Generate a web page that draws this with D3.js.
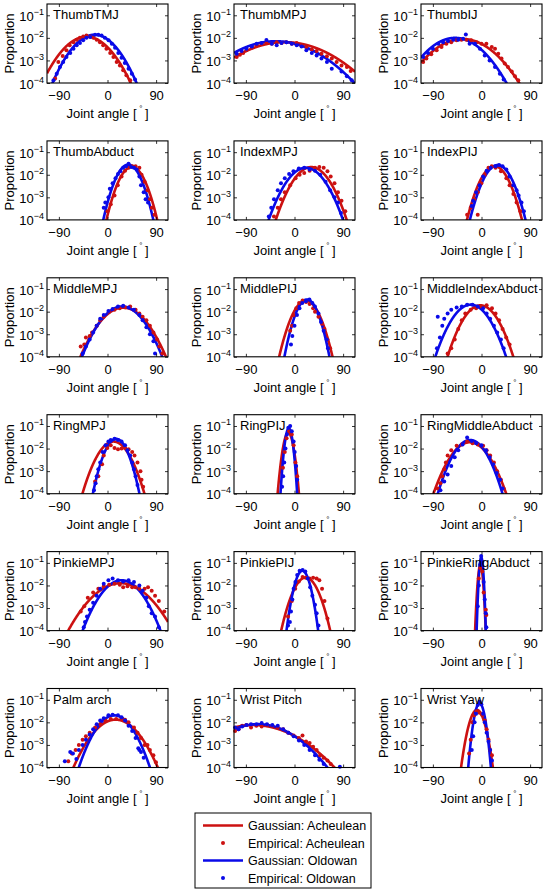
<!DOCTYPE html>
<html><head><meta charset="utf-8">
<script src="https://cdn.jsdelivr.net/npm/d3@7"></script>
<style>
body{margin:0;background:#fff}
svg{display:block}
text{font-family:"Liberation Sans",Arial,Helvetica,sans-serif;fill:#000}
</style></head>
<body><svg id="c" width="545" height="892"></svg>
<script>
// ---------- DATA ----------
const panelNames = ["ThumbTMJ","ThumbMPJ","ThumbIJ","ThumbAbduct","IndexMPJ","IndexPIJ",
  "MiddleMPJ","MiddlePIJ","MiddleIndexAbduct","RingMPJ","RingPIJ","RingMiddleAbduct",
  "PinkieMPJ","PinkiePIJ","PinkieRingAbduct","Palm arch","Wrist Pitch","Wrist Yaw"];

const xTicks = [-90, 0, 90];
const yTicks = [1e-4, 1e-3, 1e-2, 1e-1];
const yTickExp = ["\u22124","\u22123","\u22122","\u22121"];
const legendLabels = ["Gaussian: Acheulean","Empirical: Acheulean","Gaussian: Oldowan","Empirical: Oldowan"];

// Gaussian fits: [mean (deg), sd (deg), log10 of peak proportion]
const acheuleanFit = [
  [-39,26.7,-1.95],[-18,53,-2.19],[-35,35,-2.05],
  [45,14.3,-1.65],[31,20,-1.66],[24,15.4,-1.62],
  [29,25,-1.82],[21,14.6,-1.51],[-2,18.8,-1.72],
  [11,17.6,-1.69],[-11.5,5.6,-1.3],[-21.6,20.8,-1.72],
  [24.3,31.2,-1.9],[20.7,13.8,-1.65],[-2,2.7,-1.1],
  [15,25,-1.88],[-76,51,-2.12],[-8.4,8.6,-1.45]
];
const oldowanFit = [
  [-24,24.8,-1.86],[-35,50,-2.15],[-49,31.4,-2.0],
  [38.5,13.8,-1.55],[21,21.1,-1.69],[30,15.4,-1.57],
  [27,23.2,-1.77],[23,12.2,-1.46],[-20,20.1,-1.69],
  [16,12.9,-1.57],[-10.5,4.24,-1.1],[-21,18.1,-1.62],
  [26,22.5,-1.77],[14.5,8.4,-1.35],[-0.5,2.2,-0.75],
  [12.7,20.2,-1.69],[-67.5,43.2,-2.08],[-3.6,5.8,-1.15]
];

// Empirical points: [joint angle (deg), log10(proportion)]
const acheuleanPts = [
  [[-97,-3.8],[-91,-3.07],[-83,-2.8],[-76,-2.55],[-70,-2.33],[-63,-2.19],[-57,-2.08],[-51,-2.0],[-45,-1.94],[-39,-1.9],[-32,-1.94],[-26,-2.0],[-20,-2.08],[-14,-2.19],[-8,-2.33],[-2,-2.48],[5,-2.67],[11,-2.85],[17,-3.07],[23,-3.22],[29,-3.44],[35,-3.66],[42,-3.88]],
  [[-107,-2.85],[-101,-2.75],[-95,-2.67],[-89,-2.55],[-79,-2.44],[-70,-2.33],[-61,-2.26],[-52,-2.23],[-42,-2.26],[-33,-2.19],[-24,-2.23],[-15,-2.19],[-5,-2.26],[4,-2.23],[13,-2.33],[22,-2.4],[32,-2.52],[41,-2.58],[50,-2.7],[60,-2.82],[69,-2.92],[78,-3.07],[87,-3.22],[97,-3.29],[104,-3.47]],
  [[-108,-3.07],[-102,-2.92],[-93,-2.73],[-83,-2.55],[-74,-2.4],[-65,-2.26],[-56,-2.19],[-46,-2.11],[-37,-2.08],[-28,-2.08],[-19,-2.11],[-9,-2.19],[0,-2.26],[9,-2.26],[19,-2.4],[25,-2.48],[31,-2.7],[37,-2.92],[43,-3.14],[49,-3.29],[56,-3.49],[62,-3.7],[68,-3.88]],
  [[0,-3.62],[6,-3.31],[13,-2.92],[19,-2.46],[26,-2.08],[32.5,-1.82],[39,-1.69],[46,-1.62],[52,-1.62],[59,-1.69],[63,-2.0],[68.7,-2.31],[74,-2.69],[78.5,-3.08],[82,-3.46],[87,-3.77]],
  [[-38,-3.85],[-31,-3.46],[-25,-3.08],[-18,-2.77],[-8,-2.46],[2,-2.15],[9.5,-2.0],[18,-1.92],[28,-1.82],[38,-1.69],[46,-1.66],[54,-1.69],[61,-1.85],[67,-2.08],[74,-2.38],[80.5,-2.77],[87,-3.15],[94,-3.62]],
  [[-26.6,-3.77],[-20,-3.46],[-13.5,-3.08],[-7,-2.77],[-7,-3.77],[-0.3,-2.38],[6,-2.0],[13,-1.69],[19,-1.62],[26,-1.69],[36,-1.85],[46,-2.15],[52,-2.46],[59,-2.85],[65,-3.23],[72,-3.62]],
  [[-49.6,-3.54],[-43,-3.46],[-40,-3.15],[-33,-3.08],[-28.6,-2.92],[-20,-2.62],[-13.5,-2.38],[-7,-2.23],[3,-2.0],[13,-1.92],[22.7,-1.85],[33,-1.82],[42,-1.77],[52,-1.92],[59,-2.08],[65,-2.23],[72,-2.38],[78.5,-2.62],[85,-2.92],[91.7,-3.23],[96,-3.54],[101.5,-3.85]],
  [[-8,-2.85],[-4.6,-2.62],[-1.3,-2.15],[3.3,-1.85],[8.5,-1.62],[15,-1.51],[21.4,-1.57],[28,-1.66],[34.5,-1.85],[38,-2.0],[44.4,-2.23],[51,-2.54],[55.5,-2.77],[61,-3.23],[66,-3.62]],
  [[-62.7,-3.85],[-56,-3.62],[-49.6,-3.23],[-43,-2.77],[-36.5,-2.38],[-30,-2.08],[-20,-1.92],[-10,-1.85],[0,-1.77],[9.5,-1.72],[19.4,-1.85],[26,-2.08],[32.5,-2.38],[39,-2.77],[45.7,-3.15],[52,-3.46]],
  [[-23,-3.46],[-17,-3.23],[-10,-2.69],[-7,-2.31],[-0.3,-1.97],[6,-1.85],[13,-1.97],[19.4,-2.03],[26,-2.0],[32.5,-1.97],[39,-2.03],[45.7,-2.15],[50,-2.31],[55.5,-2.62],[61,-3.0],[63,-3.38],[66,-3.69]],
  [[-21.4,-2.85],[-18,-2.15],[-14.7,-1.54],[-10,-1.23],[-5,-1.38],[-1.6,-1.85],[1.7,-2.62],[5,-3.23]],
  [[-81,-3.77],[-76,-3.54],[-72.6,-3.23],[-69,-2.92],[-66,-2.62],[-62.7,-2.31],[-56,-2.08],[-46,-1.88],[-36.5,-1.82],[-26.6,-1.69],[-16.7,-1.77],[-7,-1.82],[3,-1.88],[9.5,-2.08],[16,-2.31],[23,-2.62],[29,-3.0],[36,-3.38],[41,-3.77]],
  [[-49.6,-3.15],[-43,-2.92],[-36.5,-2.54],[-26.6,-2.31],[-17,-2.15],[-7,-2.03],[3,-1.97],[13,-1.92],[22.7,-1.97],[29,-2.08],[37,-2.03],[45.7,-2.08],[52,-2.08],[59,-2.15],[68.7,-2.15],[75,-2.08],[81.8,-2.23],[88,-2.46],[95,-2.69],[105,-3.15]],
  [[-12,-3.38],[-5,-2.69],[1.3,-2.15],[8,-1.82],[15,-1.62],[21,-1.66],[28,-1.69],[34.5,-1.66],[41,-1.69],[46,-1.77],[51,-2.15],[55.5,-2.69],[61,-3.46]],
  [[-5,-1.69],[-2.6,-1.23],[1.3,-1.38],[4,-2.31],[8,-3.08],[9,-3.31]],
  [[-72.6,-3.72],[-66,-3.38],[-59,-3.23],[-53,-3.0],[-46,-2.77],[-40,-2.62],[-33,-2.46],[-23,-2.23],[-13.5,-2.08],[-3.6,-1.92],[6,-1.85],[16,-1.85],[26,-1.82],[32.5,-1.88],[39,-2.0],[49,-2.23],[55.5,-2.46],[62,-2.69],[68.7,-3.0],[74,-3.0],[78.5,-3.23],[85,-3.46],[89.7,-3.77]],
  [[-110,-2.38],[-103.5,-2.31],[-97,-2.15],[-89,-2.12],[-80.5,-2.23],[-70.6,-2.15],[-60.8,-2.18],[-51,-2.12],[-41,-2.15],[-31,-2.23],[-21,-2.31],[-11.5,-2.46],[-1.6,-2.58],[8.2,-2.69],[14.8,-2.58],[21.4,-2.85],[28,-2.92],[34.5,-3.08],[41,-3.23],[47.6,-3.46],[54,-3.57],[61,-3.69],[67,-3.85]],
  [[-23,-3.38],[-20,-2.77],[-16.7,-2.0],[-13.5,-1.69],[-9,-1.51],[-3.6,-1.57],[1.6,-1.69],[6,-1.92],[9.5,-2.31],[13,-2.77],[16,-3.23],[19.4,-3.46]]
];
const oldowanPts = [
  [[-100,-3.88],[-94,-3.59],[-88,-3.29],[-82,-3.07],[-76,-2.85],[-69,-2.67],[-63,-2.48],[-57,-2.33],[-51,-2.23],[-45,-2.11],[-39,-2.0],[-32,-1.96],[-23,-1.86],[-17,-1.86],[-11,-1.9],[-5,-2.0],[2,-2.11],[8,-2.26],[14,-2.44],[20,-2.67],[26,-2.88],[32,-3.11],[39,-3.37],[45,-3.59],[51,-3.85]],
  [[-107,-2.7],[-98,-2.58],[-89,-2.48],[-79,-2.38],[-70,-2.26],[-61,-2.23],[-52,-2.1],[-42,-2.26],[-33,-2.33],[-24,-2.23],[-15,-2.19],[-5,-2.26],[4,-2.33],[13,-2.38],[22,-2.55],[32,-2.67],[41,-2.78],[50,-2.92],[60,-3.07],[69,-3.37],[87,-3.49],[97,-3.7],[106,-3.88]],
  [[-108,-2.85],[-99,-2.67],[-90,-2.48],[-80,-2.26],[-71,-2.19],[-62,-2.14],[-52,-2.08],[-43,-2.08],[-34,-2.04],[-29,-1.85],[-22,-2.26],[-12,-2.26],[-3,-2.48],[6,-2.78],[15,-3.0],[25,-3.29],[34,-3.59],[41,-3.85]],
  [[-7,-3.46],[-4,-3.23],[1.7,-3.0],[4.3,-2.62],[9.5,-2.38],[14.8,-2.15],[19.4,-1.97],[24,-1.85],[29,-1.69],[34.5,-1.62],[39,-1.51],[44,-1.66],[49,-1.69],[54,-1.77],[59,-2.08],[62,-2.46],[67,-2.77],[70.6,-3.08],[75,-3.23]],
  [[-47.6,-3.85],[-43,-3.46],[-38,-3.08],[-31,-2.69],[-25,-2.38],[-18,-2.15],[-10,-1.97],[-2,-1.85],[8,-1.72],[18,-1.69],[28,-1.77],[38,-1.82],[47.7,-2.0],[57.5,-2.31],[66,-2.69],[74,-3.0],[80.5,-3.23],[86,-3.69]],
  [[-18,-3.38],[-15.4,-3.15],[-10,-2.77],[-3.6,-2.46],[3,-2.08],[9.5,-1.82],[17,-1.69],[26,-1.62],[32.5,-1.57],[39,-1.62],[46,-1.77],[52,-2.08],[59,-2.46],[65,-2.69],[68.7,-2.92],[74,-3.23],[78.5,-3.62]],
  [[-46,-3.85],[-40,-3.54],[-33,-3.23],[-26.6,-2.92],[-20,-2.62],[-13.5,-2.31],[-7,-2.15],[1.7,-1.97],[9.5,-1.88],[19.4,-1.77],[29,-1.74],[39,-1.82],[49,-1.92],[59,-2.15],[65,-2.38],[72,-2.69],[78.5,-3.0],[85,-3.31],[88,-3.85]],
  [[-6.5,-3.46],[-4,-3.08],[0,-2.62],[4.6,-2.15],[9.2,-1.85],[14.4,-1.62],[21,-1.54],[27.6,-1.46],[33,-1.62],[37.8,-1.77],[44.4,-2.08],[49,-2.46],[54,-2.85],[59.6,-3.23],[62,-3.62]],
  [[-82.5,-3.62],[-81,-2.23],[-77,-3.15],[-72.6,-2.62],[-69,-2.31],[-62.7,-2.08],[-56,-1.92],[-46,-1.82],[-36.5,-1.77],[-26.6,-1.69],[-16.7,-1.69],[-7,-1.77],[3,-1.85],[9.5,-2.08],[16,-2.31],[23,-2.62],[29,-2.92],[36,-3.23],[41,-3.62]],
  [[-25,-3.85],[-22,-3.54],[-20,-3.23],[-17,-2.92],[-13.5,-2.62],[-9,-2.15],[-3.6,-1.85],[1.7,-1.69],[6,-1.62],[13,-1.57],[19.4,-1.62],[26,-1.69],[32.5,-1.85],[37,-2.08],[42,-2.31],[45.7,-2.62],[49,-2.92],[52,-3.23],[55.5,-3.62]],
  [[-23,-3.69],[-21,-3.23],[-19,-2.62],[-16.7,-2.0],[-14,-1.38],[-11.5,-1.08],[-8,-1.0],[-5,-1.23],[-1.6,-1.69],[0.4,-2.15],[3,-2.77],[5,-3.38]],
  [[-76,-3.85],[-69,-3.46],[-62.7,-3.15],[-56,-2.77],[-49.6,-2.38],[-43,-2.08],[-35,-1.82],[-26.6,-1.51],[-18,-1.66],[-10,-1.77],[0,-1.85],[8.5,-2.08],[15,-2.38],[21.4,-2.69],[28,-3.08],[34.5,-3.38],[39,-3.77]],
  [[-44,-3.85],[-41.7,-3.62],[-38,-3.38],[-33,-3.08],[-26.6,-2.77],[-20,-2.46],[-13.5,-2.15],[-7,-1.92],[1.7,-1.77],[9.5,-1.69],[19.4,-1.77],[29,-1.82],[39,-1.77],[49,-1.85],[59,-2.0],[65,-2.23],[72,-2.54],[76.5,-2.92],[81.8,-3.23],[88,-3.38],[95,-3.85]],
  [[-12,-3.77],[-8.5,-3.62],[-6.5,-3.15],[-4,-2.62],[-1.6,-2.15],[1.7,-1.85],[5,-1.54],[9.5,-1.35],[15,-1.31],[20,-1.38],[24.6,-1.69],[29,-2.08],[33,-2.46],[38,-2.85],[41,-3.23],[44.4,-3.77]],
  [[-7,-2.92],[-5,-2.0],[-2.6,-1.08],[-0.6,-0.69],[1.3,-0.95],[4,-1.85],[6,-2.62],[8,-3.23],[9,-3.85]],
  [[-79,-3.72],[-69,-3.31],[-64,-3.38],[-57.6,-3.62],[-53,-3.23],[-46,-3.0],[-40,-2.77],[-33,-2.54],[-26.6,-2.31],[-20,-2.08],[-13.5,-1.92],[-7,-1.82],[1.7,-1.69],[9.5,-1.66],[19.4,-1.69],[26,-1.77],[32.5,-1.92],[39,-2.15],[45.7,-2.38],[52,-2.69],[57,-3.15],[59,-3.23],[62,-3.31],[67,-3.57]],
  [[-110,-2.23],[-103.5,-2.31],[-97,-2.18],[-89,-2.12],[-80.5,-2.08],[-70.6,-2.08],[-60.8,-2.03],[-51,-2.08],[-41,-2.12],[-31,-2.15],[-21,-2.31],[-11.5,-2.46],[-1.6,-2.62],[8.2,-2.8],[18,-3.0],[28,-3.23],[38,-3.46],[46,-3.66],[54,-3.85],[84,-3.97]],
  [[-18,-3.23],[-15.4,-2.62],[-12.8,-2.0],[-10,-1.62],[-7,-1.23],[-3.6,-1.08],[-0.3,-1.2],[3,-1.62],[6,-2.0],[9.5,-2.46],[13,-2.85],[16,-3.23],[19.4,-3.69]]
];

// ---------- LAYOUT ----------
const RED = "#cc1111", BLUE = "#0a0ae8";
const colLeft = [47, 234, 421];
const rowTop0 = 4, rowStep = 136.9;
const frameW = 121, frameH = 79;
const xDomain = [-112, 112];
const yDomain = [1e-4, Math.pow(10, -0.5)];

const svg = d3.select("#c");
const x = d3.scaleLinear().domain(xDomain).range([0, frameW]);
const y = d3.scaleLog().domain(yDomain).range([frameH, 0]);
const LOG10E = Math.LOG10E;
const gaussLog = (a, f) => f[2] - ((a - f[0]) * (a - f[0])) / (2 * f[1] * f[1]) * LOG10E;
const sampleAngles = d3.range(xDomain[0], xDomain[1] + 0.001, 0.25);

panelNames.forEach((name, i) => {
  const col = i % 3, row = Math.floor(i / 3);
  const g = svg.append("g").attr("transform", `translate(${colLeft[col]},${rowTop0 + row * rowStep})`);
  g.append("clipPath").attr("id", "clip" + i)
    .append("rect").attr("x", 0).attr("y", 0).attr("width", frameW).attr("height", frameH);
  const plot = g.append("g").attr("clip-path", `url(#clip${i})`);

  const series = [
    {fit: acheuleanFit[i], pts: acheuleanPts[i], color: RED},
    {fit: oldowanFit[i], pts: oldowanPts[i], color: BLUE}
  ];
  series.forEach(s => {
    const line = d3.line()
      .x(a => x(a))
      .y(a => y(Math.pow(10, Math.max(-6, gaussLog(a, s.fit)))));
    plot.append("path").datum(sampleAngles).attr("d", line)
      .attr("fill", "none").attr("stroke", s.color).attr("stroke-width", 2.6)
      .attr("stroke-linejoin", "round");
    g.append("g").selectAll("circle")
      .data(s.pts.filter(p => p[1] >= -4.05 && p[0] >= xDomain[0] && p[0] <= xDomain[1]))
      .join("circle")
      .attr("cx", p => x(p[0]))
      .attr("cy", p => y(Math.pow(10, p[1])))
      .attr("r", 2).attr("fill", s.color);
  });

  // axes with inward ticks
  const axB = g.append("g").attr("transform", `translate(0,${frameH})`)
    .call(d3.axisBottom(x).tickValues(xTicks).tickSize(-3).tickPadding(8).tickFormat(d3.format("d")));
  const axT = g.append("g")
    .call(d3.axisTop(x).tickValues(xTicks).tickSize(-3).tickFormat(""));
  const axL = g.append("g")
    .call(d3.axisLeft(y).tickValues(yTicks).tickSize(-3).tickFormat(""));
  const axR = g.append("g").attr("transform", `translate(${frameW},0)`)
    .call(d3.axisRight(y).tickValues(yTicks).tickSize(-3).tickFormat(""));
  [axB, axT, axL, axR].forEach(a => {
    a.select(".domain").remove();
    a.selectAll("line").attr("stroke", "#000").attr("stroke-width", 0.8);
  });
  axB.selectAll("text").attr("font-size", 13).attr("font-family", "Liberation Sans, Arial, sans-serif").attr("fill", "#000");

  // y tick labels 10^n
  yTicks.forEach((t, k) => {
    const tx = g.append("text").attr("x", -3).attr("y", y(t) + 5.5)
      .attr("text-anchor", "end").attr("font-size", 13);
    tx.append("tspan").text("10");
    tx.append("tspan").attr("dy", -6).attr("font-size", 9).text(yTickExp[k]);
  });

  // frame
  g.append("rect").attr("x", 0).attr("y", 0).attr("width", frameW).attr("height", frameH)
    .attr("fill", "none").attr("stroke", "#000").attr("stroke-width", 1.1);

  // title
  g.append("text").attr("x", 6).attr("y", 15).attr("font-size", 13).text(name);

  // axis labels
  const xl = g.append("text").attr("x", frameW / 2).attr("y", frameH + 35)
    .attr("text-anchor", "middle").attr("font-size", 13);
  xl.append("tspan").text("Joint angle [\u2009");
  xl.append("tspan").attr("dy", -7).attr("font-size", 8).text("\u00B0");
  xl.append("tspan").attr("dy", 7).text("\u2009]");

  g.append("text").attr("transform", `translate(-33.5,${frameH / 2}) rotate(-90)`)
    .attr("text-anchor", "middle").attr("font-size", 13).text("Proportion");
});

// ---------- LEGEND ----------
const lg = svg.append("g").attr("transform", "translate(195,813)");
lg.append("rect").attr("x", 0).attr("y", 0).attr("width", 176).attr("height", 75)
  .attr("fill", "#fff").attr("stroke", "#000").attr("stroke-width", 1);
const legendColors = [RED, RED, BLUE, BLUE];
const legendRowY = d3.scalePoint().domain(d3.range(legendLabels.length)).range([12.5, 65]);
legendLabels.forEach((lab, k) => {
  const cy = legendRowY(k);
  if (k % 2 === 0) {
    lg.append("line").attr("x1", 8).attr("x2", 48).attr("y1", cy).attr("y2", cy)
      .attr("stroke", legendColors[k]).attr("stroke-width", 2.6);
  } else {
    lg.append("circle").attr("cx", 28).attr("cy", cy).attr("r", 2).attr("fill", legendColors[k]);
  }
  lg.append("text").attr("x", 53).attr("y", cy + 4.5).attr("font-size", 12.5).text(lab);
});
</script>
</body></html>
